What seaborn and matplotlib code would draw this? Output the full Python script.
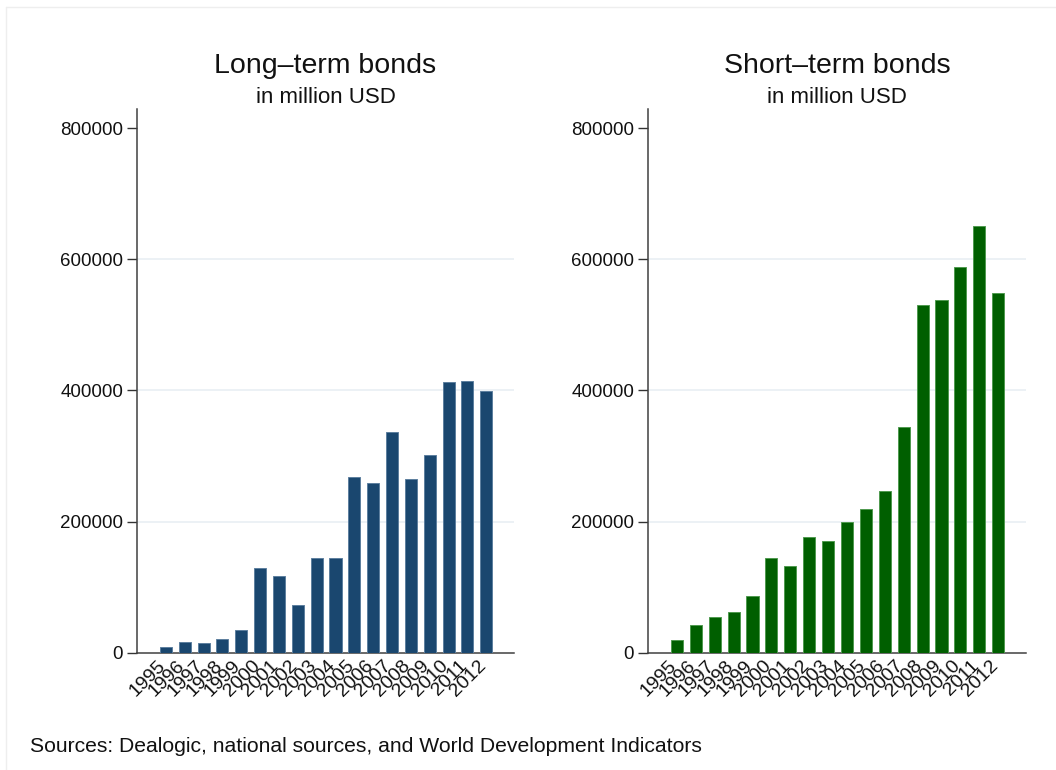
import matplotlib
matplotlib.use("Agg")
import matplotlib.pyplot as plt
import matplotlib.transforms as mtransforms
from matplotlib.lines import Line2D
import seaborn as sns
import pandas as pd

years = [str(y) for y in range(1995, 2013)]
long_term = [9000, 16800, 14800, 21400, 34200, 128800, 117600, 72400, 145000,
             145000, 268700, 259500, 337400, 265600, 301800, 413700, 415200, 399500]
short_term = [19400, 42300, 55000, 62600, 87000, 144100, 132400, 176200, 170500,
              199500, 219800, 246900, 345000, 530400, 538500, 587800, 651500, 548100]
y_ticks = [0, 200000, 400000, 600000, 800000]
grid_values = [200000, 400000, 600000]

panel_titles = ["Long\u2013term bonds", "Short\u2013term bonds"]
subtitle = "in million USD"
source_note = "Sources: Dealogic, national sources, and World Development Indicators"

sns.set_theme(style="white")
plt.rcParams["font.family"] = ["Liberation Sans", "DejaVu Sans"]

W, H = 1056, 770
fig = plt.figure(figsize=(W / 100, H / 100), dpi=100)
fig.patch.set_facecolor("white")

panels = [
    dict(left=137, right=514, values=long_term, color="#1a476f", edge="#5d7f9f"),
    dict(left=648, right=1026, values=short_term, color="#005f00", edge="#4f9a4f"),
]
bottom_px, top_px = 652.7, 109
label_shift = mtransforms.ScaledTranslation(-9 / 100, 0, fig.dpi_scale_trans)

for title, p in zip(panel_titles, panels):
    ax = fig.add_axes([p["left"] / W, (H - bottom_px) / H,
                       (p["right"] - p["left"]) / W, (bottom_px - top_px) / H])
    df = pd.DataFrame({"year": years, "value": p["values"]})
    sns.barplot(data=df, x="year", y="value", ax=ax, color=p["color"],
                saturation=1, width=0.64, edgecolor=p["edge"], linewidth=0.7,
                zorder=3)
    ax.set_xlim(-1.53, 18.47)
    ax.set_ylim(0, 829400)
    for g in grid_values:
        ax.axhline(g, color="#eaf0f4", lw=1.3, zorder=1)
    ax.set_yticks(y_ticks)
    ax.set_yticklabels([str(v) for v in y_ticks], fontsize=13.5, color="#111111")
    ax.tick_params(axis="y", direction="out", length=7, width=1, color="#333333",
                   pad=3, left=True)
    ax.tick_params(axis="x", length=0, pad=3)
    ax.set_xticks(range(len(years)))
    ax.set_xticklabels(years, rotation=45, ha="right", va="top",
                       rotation_mode="anchor", fontsize=14, color="#111111")
    for lbl in ax.get_xticklabels():
        lbl.set_transform(lbl.get_transform() + label_shift)
    ax.set_xlabel("")
    ax.set_ylabel("")
    for side in ["top", "right"]:
        ax.spines[side].set_visible(False)
    for side in ["left", "bottom"]:
        ax.spines[side].set_color("#404040")
        ax.spines[side].set_linewidth(1.1)
    cx = (p["left"] + p["right"]) / 2 / W
    fig.text(cx, (H - 73) / H, title, ha="center", va="baseline",
             fontsize=20.5, color="#111111")
    fig.text(cx, (H - 103) / H, subtitle, ha="center", va="baseline",
             fontsize=16, color="#111111")

fig.text(29.5 / W, (H - 751.7) / H, source_note, ha="left", va="baseline",
         fontsize=15.25, color="#111111")

# faint outer frame of the graph region
fig.add_artist(Line2D([6 / W, 1.0], [(H - 7) / H, (H - 7) / H],
                      transform=fig.transFigure, color="#eeeeee", lw=1))
fig.add_artist(Line2D([6 / W, 6 / W], [0, (H - 7) / H],
                      transform=fig.transFigure, color="#eeeeee", lw=1))

fig.savefig("out.png", dpi=100, facecolor="white")
